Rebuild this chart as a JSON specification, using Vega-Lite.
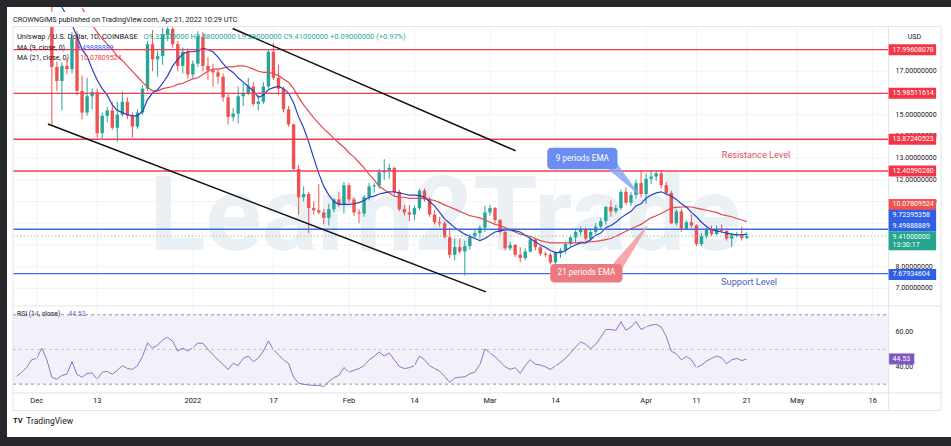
{
"$schema": "https://vega.github.io/schema/vega-lite/v6.json",
"width": 951, "height": 446,
"autosize": {"type": "fit", "contains": "padding"},
"padding": {"left": 7, "top": 7, "right": 0, "bottom": 9},
"background": "#27282c",
"config": {"view": {"stroke": null, "fill": "#ffffff"}, "text": {"font": "Roboto", "fontSize": 7, "color": "#131722"}},
"data": {"values": [{}]},
"datasets": {
"ohlc": [
{"date":"2021-12-04","open":19.6,"high":20.3,"low":14.55,"close":17.2},
{"date":"2021-12-05","open":17.2,"high":17.45,"low":16.1,"close":16.55},
{"date":"2021-12-06","open":16.55,"high":17.4,"low":15.2,"close":17.25},
{"date":"2021-12-07","open":17.25,"high":17.6,"low":16.85,"close":17.1},
{"date":"2021-12-08","open":17.1,"high":18.8,"low":16.9,"close":18.5},
{"date":"2021-12-09","open":18.5,"high":18.85,"low":15.9,"close":16.1},
{"date":"2021-12-10","open":16.1,"high":16.8,"low":14.8,"close":15.1},
{"date":"2021-12-11","open":15.1,"high":16.7,"low":14.95,"close":15.85},
{"date":"2021-12-12","open":15.85,"high":16.2,"low":15.25,"close":16.05},
{"date":"2021-12-13","open":16.05,"high":16.2,"low":13.95,"close":14.15},
{"date":"2021-12-14","open":14.15,"high":15.1,"low":13.9,"close":14.95},
{"date":"2021-12-15","open":14.95,"high":15.35,"low":14.65,"close":15.2},
{"date":"2021-12-16","open":15.2,"high":15.6,"low":14.3,"close":14.4},
{"date":"2021-12-17","open":14.4,"high":15.6,"low":13.75,"close":15.0},
{"date":"2021-12-18","open":15.0,"high":16.1,"low":14.9,"close":15.6},
{"date":"2021-12-19","open":15.6,"high":15.8,"low":14.8,"close":14.95},
{"date":"2021-12-20","open":14.95,"high":15.1,"low":13.95,"close":14.45},
{"date":"2021-12-21","open":14.45,"high":15.25,"low":14.35,"close":15.1},
{"date":"2021-12-22","open":15.1,"high":16.35,"low":15.0,"close":16.2},
{"date":"2021-12-23","open":16.2,"high":18.4,"low":16.1,"close":18.25},
{"date":"2021-12-24","open":18.25,"high":18.9,"low":17.0,"close":17.55},
{"date":"2021-12-25","open":17.55,"high":17.95,"low":16.75,"close":17.7},
{"date":"2021-12-26","open":17.7,"high":19.0,"low":17.3,"close":18.7},
{"date":"2021-12-27","open":18.7,"high":19.4,"low":18.4,"close":18.95},
{"date":"2021-12-28","open":18.95,"high":19.3,"low":18.1,"close":18.25},
{"date":"2021-12-29","open":18.25,"high":18.4,"low":17.0,"close":17.25},
{"date":"2021-12-30","open":17.25,"high":18.1,"low":16.9,"close":17.9},
{"date":"2021-12-31","open":17.9,"high":18.05,"low":16.65,"close":16.85},
{"date":"2022-01-01","open":16.85,"high":17.5,"low":16.7,"close":17.35},
{"date":"2022-01-02","open":17.35,"high":18.85,"low":17.2,"close":18.6},
{"date":"2022-01-03","open":18.6,"high":18.8,"low":17.0,"close":17.25},
{"date":"2022-01-04","open":17.25,"high":17.65,"low":16.6,"close":17.05},
{"date":"2022-01-05","open":17.05,"high":17.35,"low":16.3,"close":16.95},
{"date":"2022-01-06","open":16.95,"high":17.1,"low":16.4,"close":16.75},
{"date":"2022-01-07","open":16.75,"high":16.9,"low":15.6,"close":15.8},
{"date":"2022-01-08","open":15.8,"high":15.95,"low":14.55,"close":14.9},
{"date":"2022-01-09","open":14.9,"high":15.3,"low":14.7,"close":15.05},
{"date":"2022-01-10","open":15.05,"high":16.3,"low":14.6,"close":15.85},
{"date":"2022-01-11","open":15.85,"high":16.45,"low":15.4,"close":16.0},
{"date":"2022-01-12","open":16.0,"high":16.7,"low":15.9,"close":16.3},
{"date":"2022-01-13","open":16.3,"high":16.5,"low":15.4,"close":15.5},
{"date":"2022-01-14","open":15.5,"high":15.9,"low":15.2,"close":15.6},
{"date":"2022-01-15","open":15.6,"high":16.5,"low":15.5,"close":16.3},
{"date":"2022-01-16","open":16.3,"high":18.0,"low":16.2,"close":17.9},
{"date":"2022-01-17","open":17.9,"high":18.3,"low":16.6,"close":16.7},
{"date":"2022-01-18","open":16.7,"high":17.3,"low":15.9,"close":16.2},
{"date":"2022-01-19","open":16.2,"high":16.3,"low":15.1,"close":15.25},
{"date":"2022-01-20","open":15.25,"high":15.4,"low":14.45,"close":14.55},
{"date":"2022-01-21","open":14.55,"high":14.6,"low":12.4,"close":12.5},
{"date":"2022-01-22","open":12.5,"high":12.7,"low":10.4,"close":11.2},
{"date":"2022-01-23","open":11.2,"high":11.7,"low":11.0,"close":11.35},
{"date":"2022-01-24","open":11.35,"high":11.45,"low":9.55,"close":10.7},
{"date":"2022-01-25","open":10.7,"high":11.0,"low":10.4,"close":10.6},
{"date":"2022-01-26","open":10.6,"high":11.8,"low":10.4,"close":10.5},
{"date":"2022-01-27","open":10.5,"high":10.65,"low":9.95,"close":10.25},
{"date":"2022-01-28","open":10.25,"high":10.9,"low":9.9,"close":10.65},
{"date":"2022-01-29","open":10.65,"high":11.15,"low":10.5,"close":11.1},
{"date":"2022-01-30","open":11.1,"high":11.45,"low":10.75,"close":10.85},
{"date":"2022-01-31","open":10.85,"high":11.9,"low":10.45,"close":11.75},
{"date":"2022-02-01","open":11.75,"high":11.85,"low":10.95,"close":11.1},
{"date":"2022-02-02","open":11.1,"high":11.2,"low":10.35,"close":10.5},
{"date":"2022-02-03","open":10.5,"high":10.65,"low":10.0,"close":10.45},
{"date":"2022-02-04","open":10.45,"high":11.3,"low":10.3,"close":11.2},
{"date":"2022-02-05","open":11.2,"high":11.85,"low":11.05,"close":11.7},
{"date":"2022-02-06","open":11.7,"high":11.85,"low":11.4,"close":11.75},
{"date":"2022-02-07","open":11.75,"high":12.5,"low":11.6,"close":12.35},
{"date":"2022-02-08","open":12.35,"high":12.95,"low":12.0,"close":12.45},
{"date":"2022-02-09","open":12.45,"high":12.75,"low":12.05,"close":12.55},
{"date":"2022-02-10","open":12.55,"high":12.6,"low":11.3,"close":11.45},
{"date":"2022-02-11","open":11.45,"high":11.55,"low":10.55,"close":10.65},
{"date":"2022-02-12","open":10.65,"high":10.85,"low":10.35,"close":10.5},
{"date":"2022-02-13","open":10.5,"high":10.85,"low":10.1,"close":10.4},
{"date":"2022-02-14","open":10.4,"high":10.8,"low":10.15,"close":10.7},
{"date":"2022-02-15","open":10.7,"high":11.6,"low":10.6,"close":11.5},
{"date":"2022-02-16","open":11.5,"high":11.6,"low":11.0,"close":11.1},
{"date":"2022-02-17","open":11.1,"high":11.2,"low":10.3,"close":10.4},
{"date":"2022-02-18","open":10.4,"high":10.6,"low":9.95,"close":10.05},
{"date":"2022-02-19","open":10.05,"high":10.3,"low":9.85,"close":10.0},
{"date":"2022-02-20","open":10.0,"high":10.1,"low":9.3,"close":9.35},
{"date":"2022-02-21","open":9.35,"high":9.8,"low":8.4,"close":8.55},
{"date":"2022-02-22","open":8.55,"high":9.3,"low":8.3,"close":8.9},
{"date":"2022-02-23","open":8.9,"high":9.3,"low":8.6,"close":8.7},
{"date":"2022-02-24","open":8.7,"high":9.2,"low":7.6,"close":8.95},
{"date":"2022-02-25","open":8.95,"high":9.5,"low":8.8,"close":9.4},
{"date":"2022-02-26","open":9.4,"high":9.75,"low":9.3,"close":9.55},
{"date":"2022-02-27","open":9.55,"high":9.9,"low":9.3,"close":9.8},
{"date":"2022-02-28","open":9.8,"high":10.8,"low":9.6,"close":10.5},
{"date":"2022-03-01","open":10.5,"high":10.85,"low":10.35,"close":10.7},
{"date":"2022-03-02","open":10.7,"high":10.75,"low":10.0,"close":10.15},
{"date":"2022-03-03","open":10.15,"high":10.2,"low":9.5,"close":9.6},
{"date":"2022-03-04","open":9.6,"high":9.65,"low":8.75,"close":8.85},
{"date":"2022-03-05","open":8.85,"high":9.15,"low":8.75,"close":9.0},
{"date":"2022-03-06","open":9.0,"high":9.05,"low":8.45,"close":8.55},
{"date":"2022-03-07","open":8.55,"high":8.9,"low":8.2,"close":8.4},
{"date":"2022-03-08","open":8.4,"high":8.85,"low":8.3,"close":8.7},
{"date":"2022-03-09","open":8.7,"high":9.35,"low":8.65,"close":9.25},
{"date":"2022-03-10","open":9.25,"high":9.3,"low":8.75,"close":8.9},
{"date":"2022-03-11","open":8.9,"high":8.95,"low":8.5,"close":8.6},
{"date":"2022-03-12","open":8.6,"high":8.7,"low":8.45,"close":8.55},
{"date":"2022-03-13","open":8.55,"high":8.65,"low":8.1,"close":8.2},
{"date":"2022-03-14","open":8.2,"high":8.7,"low":8.05,"close":8.65},
{"date":"2022-03-15","open":8.65,"high":8.85,"low":8.4,"close":8.75},
{"date":"2022-03-16","open":8.75,"high":9.15,"low":8.6,"close":9.05},
{"date":"2022-03-17","open":9.05,"high":9.45,"low":8.95,"close":9.35},
{"date":"2022-03-18","open":9.35,"high":9.75,"low":9.1,"close":9.6},
{"date":"2022-03-19","open":9.6,"high":9.85,"low":9.45,"close":9.7},
{"date":"2022-03-20","open":9.7,"high":9.8,"low":9.2,"close":9.3},
{"date":"2022-03-21","open":9.3,"high":9.75,"low":9.2,"close":9.6},
{"date":"2022-03-22","open":9.6,"high":10.0,"low":9.5,"close":9.85},
{"date":"2022-03-23","open":9.85,"high":10.25,"low":9.7,"close":10.1},
{"date":"2022-03-24","open":10.1,"high":10.8,"low":9.95,"close":10.75},
{"date":"2022-03-25","open":10.75,"high":11.05,"low":10.3,"close":10.55},
{"date":"2022-03-26","open":10.55,"high":10.85,"low":10.45,"close":10.7},
{"date":"2022-03-27","open":10.7,"high":11.55,"low":10.6,"close":11.45},
{"date":"2022-03-28","open":11.45,"high":11.65,"low":10.85,"close":10.95},
{"date":"2022-03-29","open":10.95,"high":11.45,"low":10.8,"close":11.3},
{"date":"2022-03-30","open":11.3,"high":12.0,"low":11.1,"close":11.85},
{"date":"2022-03-31","open":11.85,"high":12.45,"low":11.2,"close":11.35},
{"date":"2022-04-01","open":11.35,"high":12.3,"low":10.9,"close":12.05},
{"date":"2022-04-02","open":12.05,"high":12.45,"low":11.8,"close":12.15},
{"date":"2022-04-03","open":12.15,"high":12.45,"low":11.95,"close":12.3},
{"date":"2022-04-04","open":12.3,"high":12.45,"low":11.6,"close":11.75},
{"date":"2022-04-05","open":11.75,"high":11.9,"low":11.3,"close":11.4},
{"date":"2022-04-06","open":11.4,"high":11.5,"low":9.95,"close":10.0},
{"date":"2022-04-07","open":10.0,"high":10.65,"low":9.9,"close":10.55},
{"date":"2022-04-08","open":10.55,"high":10.65,"low":9.6,"close":9.75},
{"date":"2022-04-09","open":9.75,"high":10.15,"low":9.7,"close":10.05},
{"date":"2022-04-10","open":10.05,"high":10.4,"low":9.8,"close":9.9},
{"date":"2022-04-11","open":9.9,"high":9.95,"low":8.95,"close":9.05},
{"date":"2022-04-12","open":9.05,"high":9.55,"low":8.95,"close":9.4},
{"date":"2022-04-13","open":9.4,"high":9.8,"low":9.3,"close":9.7},
{"date":"2022-04-14","open":9.7,"high":9.9,"low":9.4,"close":9.5},
{"date":"2022-04-15","open":9.5,"high":9.9,"low":9.45,"close":9.75},
{"date":"2022-04-16","open":9.75,"high":9.95,"low":9.55,"close":9.65},
{"date":"2022-04-17","open":9.65,"high":9.75,"low":9.2,"close":9.3},
{"date":"2022-04-18","open":9.3,"high":9.55,"low":8.9,"close":9.45},
{"date":"2022-04-19","open":9.45,"high":9.6,"low":9.35,"close":9.5},
{"date":"2022-04-20","open":9.5,"high":9.85,"low":9.2,"close":9.32},
{"date":"2022-04-21","open":9.32,"high":9.58,"low":9.28,"close":9.41}
],
"ema": [
{"date":"2021-12-06","ema9":19.95,"ema21":null},
{"date":"2021-12-07","ema9":19.55,"ema21":null},
{"date":"2021-12-08","ema9":19.15,"ema21":null},
{"date":"2021-12-09","ema9":18.6,"ema21":null},
{"date":"2021-12-10","ema9":18.0,"ema21":19.9},
{"date":"2021-12-11","ema9":17.7,"ema21":19.55},
{"date":"2021-12-12","ema9":17.1,"ema21":19.15},
{"date":"2021-12-13","ema9":16.6,"ema21":18.8},
{"date":"2021-12-14","ema9":16.2,"ema21":18.5},
{"date":"2021-12-15","ema9":15.9,"ema21":18.25},
{"date":"2021-12-16","ema9":15.45,"ema21":18.0},
{"date":"2021-12-17","ema9":15.2,"ema21":17.7},
{"date":"2021-12-18","ema9":15.1,"ema21":17.5},
{"date":"2021-12-19","ema9":15.0,"ema21":17.25},
{"date":"2021-12-20","ema9":14.95,"ema21":17.0},
{"date":"2021-12-21","ema9":14.95,"ema21":16.75},
{"date":"2021-12-22","ema9":15.15,"ema21":16.5},
{"date":"2021-12-23","ema9":15.7,"ema21":16.25},
{"date":"2021-12-24","ema9":16.0,"ema21":16.1},
{"date":"2021-12-25","ema9":16.15,"ema21":16.1},
{"date":"2021-12-26","ema9":16.45,"ema21":16.2},
{"date":"2021-12-27","ema9":16.8,"ema21":16.25},
{"date":"2021-12-28","ema9":17.25,"ema21":16.3},
{"date":"2021-12-29","ema9":17.55,"ema21":16.4},
{"date":"2021-12-30","ema9":17.8,"ema21":16.45},
{"date":"2021-12-31","ema9":17.9,"ema21":16.55},
{"date":"2022-01-01","ema9":17.9,"ema21":16.65},
{"date":"2022-01-02","ema9":17.95,"ema21":16.7},
{"date":"2022-01-03","ema9":18.05,"ema21":16.85},
{"date":"2022-01-04","ema9":18.0,"ema21":17.0},
{"date":"2022-01-05","ema9":17.9,"ema21":17.1},
{"date":"2022-01-06","ema9":17.65,"ema21":17.1},
{"date":"2022-01-07","ema9":17.35,"ema21":17.15},
{"date":"2022-01-08","ema9":17.1,"ema21":17.2},
{"date":"2022-01-09","ema9":16.95,"ema21":17.2},
{"date":"2022-01-10","ema9":16.7,"ema21":17.25},
{"date":"2022-01-11","ema9":16.5,"ema21":17.25},
{"date":"2022-01-12","ema9":16.3,"ema21":17.2},
{"date":"2022-01-13","ema9":16.1,"ema21":17.1},
{"date":"2022-01-14","ema9":15.8,"ema21":17.0},
{"date":"2022-01-15","ema9":15.9,"ema21":16.95},
{"date":"2022-01-16","ema9":16.15,"ema21":16.95},
{"date":"2022-01-17","ema9":16.25,"ema21":16.9},
{"date":"2022-01-18","ema9":16.3,"ema21":16.8},
{"date":"2022-01-19","ema9":16.2,"ema21":16.65},
{"date":"2022-01-20","ema9":16.0,"ema21":16.5},
{"date":"2022-01-21","ema9":15.55,"ema21":16.2},
{"date":"2022-01-22","ema9":14.9,"ema21":15.8},
{"date":"2022-01-23","ema9":14.4,"ema21":15.45},
{"date":"2022-01-24","ema9":13.75,"ema21":15.15},
{"date":"2022-01-25","ema9":13.0,"ema21":14.85},
{"date":"2022-01-26","ema9":12.3,"ema21":14.6},
{"date":"2022-01-27","ema9":11.7,"ema21":14.35},
{"date":"2022-01-28","ema9":11.3,"ema21":14.15},
{"date":"2022-01-29","ema9":11.0,"ema21":13.9},
{"date":"2022-01-30","ema9":10.87,"ema21":13.7},
{"date":"2022-01-31","ema9":10.87,"ema21":13.5},
{"date":"2022-02-01","ema9":10.87,"ema21":13.25},
{"date":"2022-02-02","ema9":10.9,"ema21":13.05},
{"date":"2022-02-03","ema9":10.95,"ema21":12.8},
{"date":"2022-02-04","ema9":11.05,"ema21":12.55},
{"date":"2022-02-05","ema9":11.2,"ema21":12.25},
{"date":"2022-02-06","ema9":11.25,"ema21":12.0},
{"date":"2022-02-07","ema9":11.35,"ema21":11.7},
{"date":"2022-02-08","ema9":11.4,"ema21":11.55},
{"date":"2022-02-09","ema9":11.45,"ema21":11.4},
{"date":"2022-02-10","ema9":11.45,"ema21":11.25},
{"date":"2022-02-11","ema9":11.4,"ema21":11.2},
{"date":"2022-02-12","ema9":11.35,"ema21":11.2},
{"date":"2022-02-13","ema9":11.3,"ema21":11.15},
{"date":"2022-02-14","ema9":11.3,"ema21":11.15},
{"date":"2022-02-15","ema9":11.27,"ema21":11.15},
{"date":"2022-02-16","ema9":11.2,"ema21":11.15},
{"date":"2022-02-17","ema9":11.0,"ema21":11.1},
{"date":"2022-02-18","ema9":10.8,"ema21":11.05},
{"date":"2022-02-19","ema9":10.5,"ema21":10.95},
{"date":"2022-02-20","ema9":10.2,"ema21":10.85},
{"date":"2022-02-21","ema9":10.0,"ema21":10.75},
{"date":"2022-02-22","ema9":9.8,"ema21":10.65},
{"date":"2022-02-23","ema9":9.65,"ema21":10.55},
{"date":"2022-02-24","ema9":9.5,"ema21":10.45},
{"date":"2022-02-25","ema9":9.4,"ema21":10.35},
{"date":"2022-02-26","ema9":9.3,"ema21":10.3},
{"date":"2022-02-27","ema9":9.2,"ema21":10.25},
{"date":"2022-02-28","ema9":9.3,"ema21":10.15},
{"date":"2022-03-01","ema9":9.45,"ema21":10.05},
{"date":"2022-03-02","ema9":9.6,"ema21":9.95},
{"date":"2022-03-03","ema9":9.65,"ema21":9.9},
{"date":"2022-03-04","ema9":9.7,"ema21":9.8},
{"date":"2022-03-05","ema9":9.7,"ema21":9.7},
{"date":"2022-03-06","ema9":9.65,"ema21":9.6},
{"date":"2022-03-07","ema9":9.6,"ema21":9.5},
{"date":"2022-03-08","ema9":9.45,"ema21":9.45},
{"date":"2022-03-09","ema9":9.3,"ema21":9.4},
{"date":"2022-03-10","ema9":9.15,"ema21":9.3},
{"date":"2022-03-11","ema9":9.0,"ema21":9.2},
{"date":"2022-03-12","ema9":8.9,"ema21":9.15},
{"date":"2022-03-13","ema9":8.75,"ema21":9.1},
{"date":"2022-03-14","ema9":8.65,"ema21":9.1},
{"date":"2022-03-15","ema9":8.65,"ema21":9.1},
{"date":"2022-03-16","ema9":8.75,"ema21":9.1},
{"date":"2022-03-17","ema9":8.9,"ema21":9.1},
{"date":"2022-03-18","ema9":9.0,"ema21":9.1},
{"date":"2022-03-19","ema9":9.1,"ema21":9.12},
{"date":"2022-03-20","ema9":9.1,"ema21":9.13},
{"date":"2022-03-21","ema9":9.25,"ema21":9.15},
{"date":"2022-03-22","ema9":9.45,"ema21":9.17},
{"date":"2022-03-23","ema9":9.55,"ema21":9.2},
{"date":"2022-03-24","ema9":9.8,"ema21":9.25},
{"date":"2022-03-25","ema9":9.9,"ema21":9.3},
{"date":"2022-03-26","ema9":10.05,"ema21":9.4},
{"date":"2022-03-27","ema9":10.25,"ema21":9.52},
{"date":"2022-03-28","ema9":10.4,"ema21":9.63},
{"date":"2022-03-29","ema9":10.55,"ema21":9.75},
{"date":"2022-03-30","ema9":10.8,"ema21":9.85},
{"date":"2022-03-31","ema9":10.9,"ema21":9.95},
{"date":"2022-04-01","ema9":11.15,"ema21":10.1},
{"date":"2022-04-02","ema9":11.3,"ema21":10.25},
{"date":"2022-04-03","ema9":11.4,"ema21":10.35},
{"date":"2022-04-04","ema9":11.45,"ema21":10.45},
{"date":"2022-04-05","ema9":11.35,"ema21":10.58},
{"date":"2022-04-06","ema9":11.25,"ema21":10.7},
{"date":"2022-04-07","ema9":11.1,"ema21":10.73},
{"date":"2022-04-08","ema9":10.9,"ema21":10.75},
{"date":"2022-04-09","ema9":10.75,"ema21":10.76},
{"date":"2022-04-10","ema9":10.5,"ema21":10.75},
{"date":"2022-04-11","ema9":10.3,"ema21":10.7},
{"date":"2022-04-12","ema9":10.05,"ema21":10.65},
{"date":"2022-04-13","ema9":9.85,"ema21":10.6},
{"date":"2022-04-14","ema9":9.7,"ema21":10.55},
{"date":"2022-04-15","ema9":9.65,"ema21":10.5},
{"date":"2022-04-16","ema9":9.6,"ema21":10.4},
{"date":"2022-04-17","ema9":9.55,"ema21":10.35},
{"date":"2022-04-18","ema9":9.5,"ema21":10.3},
{"date":"2022-04-19","ema9":9.47,"ema21":10.22},
{"date":"2022-04-20","ema9":9.47,"ema21":10.15},
{"date":"2022-04-21","ema9":9.499,"ema21":10.078}
],
"rsi": [
{"date":"2021-11-27","rsi":34.5},{"date":"2021-11-28","rsi":36.8},{"date":"2021-11-29","rsi":39.6},{"date":"2021-11-30","rsi":44.1},
{"date":"2021-12-01","rsi":44.9},{"date":"2021-12-02","rsi":50.8},{"date":"2021-12-03","rsi":44.1},{"date":"2021-12-04","rsi":34.0},
{"date":"2021-12-05","rsi":32.8},{"date":"2021-12-06","rsi":35.0},{"date":"2021-12-07","rsi":35.8},{"date":"2021-12-08","rsi":43.0},
{"date":"2021-12-09","rsi":35.6},{"date":"2021-12-10","rsi":34.0},{"date":"2021-12-11","rsi":36.2},{"date":"2021-12-12","rsi":36.5},
{"date":"2021-12-13","rsi":32.8},{"date":"2021-12-14","rsi":36.8},{"date":"2021-12-15","rsi":37.4},{"date":"2021-12-16","rsi":35.6},
{"date":"2021-12-17","rsi":38.0},{"date":"2021-12-18","rsi":40.7},{"date":"2021-12-19","rsi":39.0},{"date":"2021-12-20","rsi":38.5},
{"date":"2021-12-21","rsi":40.7},{"date":"2021-12-22","rsi":46.0},{"date":"2021-12-23","rsi":53.7},{"date":"2021-12-24","rsi":50.8},
{"date":"2021-12-25","rsi":52.5},{"date":"2021-12-26","rsi":55.5},{"date":"2021-12-27","rsi":57.0},{"date":"2021-12-28","rsi":54.6},
{"date":"2021-12-29","rsi":49.1},{"date":"2021-12-30","rsi":50.8},{"date":"2021-12-31","rsi":49.1},{"date":"2022-01-01","rsi":51.0},
{"date":"2022-01-02","rsi":53.7},{"date":"2022-01-03","rsi":53.5},{"date":"2022-01-04","rsi":50.0},{"date":"2022-01-05","rsi":47.0},
{"date":"2022-01-06","rsi":44.0},{"date":"2022-01-07","rsi":41.3},{"date":"2022-01-08","rsi":38.5},{"date":"2022-01-09","rsi":42.0},
{"date":"2022-01-10","rsi":40.7},{"date":"2022-01-11","rsi":44.9},{"date":"2022-01-12","rsi":46.2},{"date":"2022-01-13","rsi":43.0},
{"date":"2022-01-14","rsi":45.0},{"date":"2022-01-15","rsi":49.1},{"date":"2022-01-16","rsi":54.9},{"date":"2022-01-17","rsi":49.9},
{"date":"2022-01-18","rsi":47.0},{"date":"2022-01-19","rsi":44.0},{"date":"2022-01-20","rsi":42.0},{"date":"2022-01-21","rsi":34.0},
{"date":"2022-01-22","rsi":30.6},{"date":"2022-01-23","rsi":29.9},{"date":"2022-01-24","rsi":29.5},{"date":"2022-01-25","rsi":29.3},
{"date":"2022-01-26","rsi":29.3},{"date":"2022-01-27","rsi":28.6},{"date":"2022-01-28","rsi":31.5},{"date":"2022-01-29","rsi":33.8},
{"date":"2022-01-30","rsi":35.0},{"date":"2022-01-31","rsi":39.6},{"date":"2022-02-01","rsi":36.8},{"date":"2022-02-02","rsi":38.0},
{"date":"2022-02-03","rsi":39.0},{"date":"2022-02-04","rsi":40.7},{"date":"2022-02-05","rsi":44.0},{"date":"2022-02-06","rsi":46.0},
{"date":"2022-02-07","rsi":48.6},{"date":"2022-02-08","rsi":46.2},{"date":"2022-02-09","rsi":48.0},{"date":"2022-02-10","rsi":44.0},
{"date":"2022-02-11","rsi":40.1},{"date":"2022-02-12","rsi":39.0},{"date":"2022-02-13","rsi":39.5},{"date":"2022-02-14","rsi":40.7},
{"date":"2022-02-15","rsi":46.2},{"date":"2022-02-16","rsi":44.1},{"date":"2022-02-17","rsi":40.7},{"date":"2022-02-18","rsi":39.0},
{"date":"2022-02-19","rsi":37.5},{"date":"2022-02-20","rsi":34.5},{"date":"2022-02-21","rsi":31.1},{"date":"2022-02-22","rsi":33.5},
{"date":"2022-02-23","rsi":34.0},{"date":"2022-02-24","rsi":34.2},{"date":"2022-02-25","rsi":36.0},{"date":"2022-02-26","rsi":37.0},
{"date":"2022-02-27","rsi":41.3},{"date":"2022-02-28","rsi":50.3},{"date":"2022-03-01","rsi":48.0},{"date":"2022-03-02","rsi":45.8},
{"date":"2022-03-03","rsi":43.0},{"date":"2022-03-04","rsi":40.0},{"date":"2022-03-05","rsi":38.5},{"date":"2022-03-06","rsi":39.5},
{"date":"2022-03-07","rsi":36.2},{"date":"2022-03-08","rsi":40.7},{"date":"2022-03-09","rsi":44.1},{"date":"2022-03-10","rsi":41.5},
{"date":"2022-03-11","rsi":41.0},{"date":"2022-03-12","rsi":40.0},{"date":"2022-03-13","rsi":38.5},{"date":"2022-03-14","rsi":40.5},
{"date":"2022-03-15","rsi":42.5},{"date":"2022-03-16","rsi":44.9},{"date":"2022-03-17","rsi":48.0},{"date":"2022-03-18","rsi":51.5},
{"date":"2022-03-19","rsi":54.3},{"date":"2022-03-20","rsi":53.0},{"date":"2022-03-21","rsi":50.5},{"date":"2022-03-22","rsi":53.0},
{"date":"2022-03-23","rsi":57.0},{"date":"2022-03-24","rsi":61.5},{"date":"2022-03-25","rsi":61.5},{"date":"2022-03-26","rsi":61.0},
{"date":"2022-03-27","rsi":66.0},{"date":"2022-03-28","rsi":61.0},{"date":"2022-03-29","rsi":63.0},{"date":"2022-03-30","rsi":66.1},
{"date":"2022-03-31","rsi":61.5},{"date":"2022-04-01","rsi":63.0},{"date":"2022-04-02","rsi":64.0},{"date":"2022-04-03","rsi":64.5},
{"date":"2022-04-04","rsi":63.0},{"date":"2022-04-05","rsi":57.5},{"date":"2022-04-06","rsi":49.0},{"date":"2022-04-07","rsi":47.5},
{"date":"2022-04-08","rsi":44.0},{"date":"2022-04-09","rsi":46.0},{"date":"2022-04-10","rsi":44.0},{"date":"2022-04-11","rsi":39.5},
{"date":"2022-04-12","rsi":41.0},{"date":"2022-04-13","rsi":43.3},{"date":"2022-04-14","rsi":44.9},{"date":"2022-04-15","rsi":46.2},
{"date":"2022-04-16","rsi":45.2},{"date":"2022-04-17","rsi":41.8},{"date":"2022-04-18","rsi":44.0},{"date":"2022-04-19","rsi":44.9},
{"date":"2022-04-20","rsi":43.6},{"date":"2022-04-21","rsi":44.53}
],
"levels": [
{"price":17.99608078,"kind":"resistance"},{"price":15.98511614,"kind":"resistance"},{"price":13.87240523,"kind":"resistance"},{"price":12.4059028,"kind":"resistance"},
{"price":9.72395358,"kind":"support"},{"price":7.67934604,"kind":"support"}
],
"ticks": [{"price":7},{"price":8},{"price":9},{"price":10},{"price":11},{"price":12},{"price":13},{"price":14},{"price":15},{"price":16},{"price":17},{"price":18}],
"dates": [
{"date":"2021-12-01","label":"Dec"},{"date":"2021-12-13","label":"13"},{"date":"2022-01-01","label":"2022"},{"date":"2022-01-17","label":"17"},
{"date":"2022-02-01","label":"Feb"},{"date":"2022-02-14","label":"14"},{"date":"2022-03-01","label":"Mar"},{"date":"2022-03-14","label":"14"},
{"date":"2022-04-01","label":"Apr"},{"date":"2022-04-11","label":"11"},{"date":"2022-04-21","label":"21"},{"date":"2022-05-01","label":"May"},{"date":"2022-05-16","label":"16"}
],
"tags": [
{"label":"17.99608078","at":17.99608078,"kind":"resistance"},
{"label":"15.98511614","at":15.98511614,"kind":"resistance"},
{"label":"13.87240523","at":13.87240523,"kind":"resistance"},
{"label":"12.40590280","at":12.4059028,"kind":"resistance"},
{"label":"10.07809524","at":10.87,"kind":"ema21"},
{"label":"9.72395358","at":10.37,"kind":"support"},
{"label":"9.49888889","at":9.89,"kind":"ema9"},
{"label":"7.67934604","at":7.643,"kind":"support"}
]
},
"resolve": {"scale": {"y": "independent"}},
"layer": [
{"layer": [
 {"mark": {"type": "rect", "fill": "#7e57c2", "fillOpacity": 0.09},
  "encoding": {
   "x": {"datum": {"year":2021,"month":11,"date":26,"hours":6,"minutes":50,"utc":true}, "type": "temporal", "scale": {"type":"utc","domain":[{"year":2021,"month":11,"date":26,"hours":2,"minutes":7,"utc":true},{"year":2022,"month":5,"date":30,"hours":13,"minutes":12,"utc":true}]}, "axis": null},
   "x2": {"datum": {"year":2022,"month":5,"date":19,"hours":3,"minutes":50,"utc":true}},
   "y": {"datum": 70, "type": "quantitative", "scale": {"domain":[2.39,244.65],"nice":false,"zero":false}, "axis": null},
   "y2": {"datum": 30}}},
 {"data": {"values": [{"rsi":70},{"rsi":30}]},
  "mark": {"type": "rule", "color": "#8f929b", "strokeWidth": 1, "strokeDash": [3, 3]},
  "encoding": {
   "x": {"datum": {"year":2021,"month":11,"date":26,"hours":6,"minutes":50,"utc":true}, "type": "temporal", "scale": {"type":"utc","domain":[{"year":2021,"month":11,"date":26,"hours":2,"minutes":7,"utc":true},{"year":2022,"month":5,"date":30,"hours":13,"minutes":12,"utc":true}]}, "axis": null},
   "x2": {"datum": {"year":2022,"month":5,"date":19,"hours":3,"minutes":50,"utc":true}},
   "y": {"field": "rsi", "type": "quantitative", "scale": {"domain":[2.39,244.65],"nice":false,"zero":false}, "axis": null}}},
 {"mark": {"type": "rule", "color": "#c3c5cc", "strokeWidth": 1, "strokeDash": [3, 3]},
  "encoding": {
   "x": {"datum": {"year":2021,"month":11,"date":26,"hours":6,"minutes":50,"utc":true}, "type": "temporal", "scale": {"type":"utc","domain":[{"year":2021,"month":11,"date":26,"hours":2,"minutes":7,"utc":true},{"year":2022,"month":5,"date":30,"hours":13,"minutes":12,"utc":true}]}, "axis": null},
   "x2": {"datum": {"year":2022,"month":5,"date":19,"hours":3,"minutes":50,"utc":true}},
   "y": {"datum": 50, "type": "quantitative", "scale": {"domain":[2.39,244.65],"nice":false,"zero":false}, "axis": null}}},
 {"data": {"name": "rsi"},
  "mark": {"type": "line", "color": "#8a76c4", "strokeWidth": 1},
  "encoding": {
   "x": {"field": "date", "type": "temporal", "scale": {"type":"utc","domain":[{"year":2021,"month":11,"date":26,"hours":2,"minutes":7,"utc":true},{"year":2022,"month":5,"date":30,"hours":13,"minutes":12,"utc":true}]}, "axis": null},
   "y": {"field": "rsi", "type": "quantitative", "scale": {"domain":[2.39,244.65],"nice":false,"zero":false}, "axis": null}}},
 {"mark": {"type": "text", "align": "left", "baseline": "middle", "fontSize": 6.8, "text": "RSI (14, close)"},
  "encoding": {
   "x": {"datum": {"year":2021,"month":11,"date":27,"hours":1,"minutes":42,"utc":true}, "type": "temporal", "scale": {"type":"utc","domain":[{"year":2021,"month":11,"date":26,"hours":2,"minutes":7,"utc":true},{"year":2022,"month":5,"date":30,"hours":13,"minutes":12,"utc":true}]}, "axis": null},
   "y": {"datum": 70.6, "type": "quantitative", "scale": {"domain":[2.39,244.65],"nice":false,"zero":false}, "axis": null}}},
 {"mark": {"type": "text", "align": "left", "baseline": "middle", "fontSize": 6.8, "color": "#7e57c2", "text": "44.53"},
  "encoding": {
   "x": {"datum": {"year":2021,"month":12,"date":7,"hours":6,"minutes":53,"utc":true}, "type": "temporal", "scale": {"type":"utc","domain":[{"year":2021,"month":11,"date":26,"hours":2,"minutes":7,"utc":true},{"year":2022,"month":5,"date":30,"hours":13,"minutes":12,"utc":true}]}, "axis": null},
   "y": {"datum": 70.6, "type": "quantitative", "scale": {"domain":[2.39,244.65],"nice":false,"zero":false}, "axis": null}}},
 {"data": {"values": [{"rsi":60},{"rsi":40}]},
  "mark": {"type": "text", "align": "left", "baseline": "middle", "fontSize": 7},
  "encoding": {
   "x": {"datum": {"year":2022,"month":5,"date":20,"hours":12,"minutes":45,"utc":true}, "type": "temporal", "scale": {"type":"utc","domain":[{"year":2021,"month":11,"date":26,"hours":2,"minutes":7,"utc":true},{"year":2022,"month":5,"date":30,"hours":13,"minutes":12,"utc":true}]}, "axis": null},
   "y": {"field": "rsi", "type": "quantitative", "scale": {"domain":[2.39,244.65],"nice":false,"zero":false}, "axis": null},
   "text": {"field": "rsi", "type": "quantitative", "format": ".2f"}}},
 {"mark": {"type": "bar", "orient": "horizontal", "size": 11, "color": "#7e57c2"},
  "encoding": {
   "x": {"datum": {"year":2022,"month":5,"date":19,"hours":3,"minutes":50,"utc":true}, "type": "temporal", "scale": {"type":"utc","domain":[{"year":2021,"month":11,"date":26,"hours":2,"minutes":7,"utc":true},{"year":2022,"month":5,"date":30,"hours":13,"minutes":12,"utc":true}]}, "axis": null},
   "x2": {"datum": {"year":2022,"month":5,"date":24,"hours":6,"minutes":15,"utc":true}},
   "y": {"datum": 44.53, "type": "quantitative", "scale": {"domain":[2.39,244.65],"nice":false,"zero":false}, "axis": null}}},
 {"mark": {"type": "text", "align": "left", "baseline": "middle", "fontSize": 7, "color": "#ffffff", "text": "44.53"},
  "encoding": {
   "x": {"datum": {"year":2022,"month":5,"date":19,"hours":22,"minutes":35,"utc":true}, "type": "temporal", "scale": {"type":"utc","domain":[{"year":2021,"month":11,"date":26,"hours":2,"minutes":7,"utc":true},{"year":2022,"month":5,"date":30,"hours":13,"minutes":12,"utc":true}]}, "axis": null},
   "y": {"datum": 44.53, "type": "quantitative", "scale": {"domain":[2.39,244.65],"nice":false,"zero":false}, "axis": null}}}
]},
{"layer": [
 {"data": {"name": "ticks"},
  "mark": {"type": "rule", "color": "#f1f3f7", "strokeWidth": 1},
  "encoding": {
   "x": {"datum": {"year":2021,"month":11,"date":26,"hours":6,"minutes":50,"utc":true}, "type": "temporal", "scale": {"type":"utc","domain":[{"year":2021,"month":11,"date":26,"hours":2,"minutes":7,"utc":true},{"year":2022,"month":5,"date":30,"hours":13,"minutes":12,"utc":true}]}, "axis": null},
   "x2": {"datum": {"year":2022,"month":5,"date":19,"hours":3,"minutes":50,"utc":true}},
   "y": {"field": "price", "type": "quantitative", "scale": {"domain":[0.3874,19.731],"nice":false,"zero":false}, "axis": null}}},
 {"data": {"name": "dates"},
  "mark": {"type": "rule", "color": "#f1f3f7", "strokeWidth": 1},
  "encoding": {
   "x": {"field": "date", "type": "temporal", "scale": {"type":"utc","domain":[{"year":2021,"month":11,"date":26,"hours":2,"minutes":7,"utc":true},{"year":2022,"month":5,"date":30,"hours":13,"minutes":12,"utc":true}]}, "axis": null},
   "y": {"datum": 19.056, "type": "quantitative", "scale": {"domain":[0.3874,19.731],"nice":false,"zero":false}, "axis": null},
   "y2": {"datum": 2.187}}},
 {"mark": {"type": "text", "text": "Learn2Trade", "fontSize": 104, "fontWeight": "bold", "color": "#ebf0f5", "align": "center", "baseline": "middle"},
  "encoding": {
   "x": {"datum": {"year":2022,"month":2,"date":20,"hours":2,"minutes":25,"utc":true}, "type": "temporal", "scale": {"type":"utc","domain":[{"year":2021,"month":11,"date":26,"hours":2,"minutes":7,"utc":true},{"year":2022,"month":5,"date":30,"hours":13,"minutes":12,"utc":true}]}, "axis": null},
   "y": {"datum": 10.2, "type": "quantitative", "scale": {"domain":[0.3874,19.731],"nice":false,"zero":false}, "axis": null}}},
 {"data": {"name": "ohlc"},
  "mark": {"type": "rule", "strokeWidth": 1, "clip": true},
  "encoding": {
   "x": {"field": "date", "type": "temporal", "scale": {"type":"utc","domain":[{"year":2021,"month":11,"date":26,"hours":2,"minutes":7,"utc":true},{"year":2022,"month":5,"date":30,"hours":13,"minutes":12,"utc":true}]}, "axis": null},
   "y": {"field": "low", "type": "quantitative", "scale": {"domain":[0.3874,19.731],"nice":false,"zero":false}, "axis": null},
   "y2": {"field": "high"},
   "color": {"condition": {"test": "datum.close >= datum.open", "value": "#26a69a"}, "value": "#ef5350"}}},
 {"data": {"name": "ohlc"},
  "mark": {"type": "bar", "size": 3.4, "clip": true},
  "encoding": {
   "x": {"field": "date", "type": "temporal", "scale": {"type":"utc","domain":[{"year":2021,"month":11,"date":26,"hours":2,"minutes":7,"utc":true},{"year":2022,"month":5,"date":30,"hours":13,"minutes":12,"utc":true}]}, "axis": null},
   "y": {"field": "open", "type": "quantitative", "scale": {"domain":[0.3874,19.731],"nice":false,"zero":false}, "axis": null},
   "y2": {"field": "close"},
   "color": {"condition": {"test": "datum.close >= datum.open", "value": "#26a69a"}, "value": "#ef5350"}}},
 {"data": {"name": "ema"},
  "mark": {"type": "line", "color": "#e5484d", "strokeWidth": 1.2, "clip": true},
  "encoding": {
   "x": {"field": "date", "type": "temporal", "scale": {"type":"utc","domain":[{"year":2021,"month":11,"date":26,"hours":2,"minutes":7,"utc":true},{"year":2022,"month":5,"date":30,"hours":13,"minutes":12,"utc":true}]}, "axis": null},
   "y": {"field": "ema21", "type": "quantitative", "scale": {"domain":[0.3874,19.731],"nice":false,"zero":false}, "axis": null}}},
 {"data": {"name": "ema"},
  "mark": {"type": "line", "color": "#2b3fc4", "strokeWidth": 1.2, "clip": true},
  "encoding": {
   "x": {"field": "date", "type": "temporal", "scale": {"type":"utc","domain":[{"year":2021,"month":11,"date":26,"hours":2,"minutes":7,"utc":true},{"year":2022,"month":5,"date":30,"hours":13,"minutes":12,"utc":true}]}, "axis": null},
   "y": {"field": "ema9", "type": "quantitative", "scale": {"domain":[0.3874,19.731],"nice":false,"zero":false}, "axis": null}}},
 {"mark": {"type": "rule", "color": "#8fcac3", "strokeWidth": 1, "strokeDash": [1.5, 2]},
  "encoding": {
   "x": {"datum": {"year":2021,"month":11,"date":26,"hours":6,"minutes":50,"utc":true}, "type": "temporal", "scale": {"type":"utc","domain":[{"year":2021,"month":11,"date":26,"hours":2,"minutes":7,"utc":true},{"year":2022,"month":5,"date":30,"hours":13,"minutes":12,"utc":true}]}, "axis": null},
   "x2": {"datum": {"year":2022,"month":5,"date":19,"hours":3,"minutes":50,"utc":true}},
   "y": {"datum": 9.41, "type": "quantitative", "scale": {"domain":[0.3874,19.731],"nice":false,"zero":false}, "axis": null}}},
 {"data": {"name": "levels"},
  "mark": {"type": "rule", "strokeWidth": 1.4},
  "encoding": {
   "x": {"datum": {"year":2021,"month":11,"date":26,"hours":6,"minutes":50,"utc":true}, "type": "temporal", "scale": {"type":"utc","domain":[{"year":2021,"month":11,"date":26,"hours":2,"minutes":7,"utc":true},{"year":2022,"month":5,"date":30,"hours":13,"minutes":12,"utc":true}]}, "axis": null},
   "x2": {"datum": {"year":2022,"month":5,"date":19,"hours":3,"minutes":50,"utc":true}},
   "y": {"field": "price", "type": "quantitative", "scale": {"domain":[0.3874,19.731],"nice":false,"zero":false}, "axis": null},
   "color": {"condition": {"test": "datum.kind === 'resistance'", "value": "#ee3f4f"}, "value": "#3d6ce0"}}},
 {"data": {"values": [
   {"line":"upper","date":"2022-01-08T21:30:00Z","price":18.97},{"line":"upper","date":"2022-03-06T02:00:00Z","price":13.34},
   {"line":"lower","date":"2021-12-03T05:20:00Z","price":14.57},{"line":"lower","date":"2022-02-28T04:50:00Z","price":6.84}]},
  "mark": {"type": "line", "color": "#111111", "strokeWidth": 1.5},
  "encoding": {
   "x": {"field": "date", "type": "temporal", "scale": {"type":"utc","domain":[{"year":2021,"month":11,"date":26,"hours":2,"minutes":7,"utc":true},{"year":2022,"month":5,"date":30,"hours":13,"minutes":12,"utc":true}]}, "axis": null},
   "y": {"field": "price", "type": "quantitative", "scale": {"domain":[0.3874,19.731],"nice":false,"zero":false}, "axis": null},
   "detail": {"field": "line"}}},
 {"data": {"values": [{"date":"2022-03-25T13:00:00Z","price":12.58,"s":0},{"date":"2022-03-30T10:50:00Z","price":11.36,"s":1}]},
  "mark": {"type": "trail", "color": "#88a3f2", "opacity": 0.85},
  "encoding": {
   "x": {"field": "date", "type": "temporal", "scale": {"type":"utc","domain":[{"year":2021,"month":11,"date":26,"hours":2,"minutes":7,"utc":true},{"year":2022,"month":5,"date":30,"hours":13,"minutes":12,"utc":true}]}, "axis": null},
   "y": {"field": "price", "type": "quantitative", "scale": {"domain":[0.3874,19.731],"nice":false,"zero":false}, "axis": null},
   "size": {"field": "s", "type": "quantitative", "scale": {"domain": [0, 1], "range": [10, 1]}, "legend": null}}},
 {"data": {"values": [{"date":"2022-03-26T12:30:00Z","price":8.08,"s":0},{"date":"2022-04-01T05:15:00Z","price":9.88,"s":1}]},
  "mark": {"type": "trail", "color": "#f09aa0", "opacity": 0.85},
  "encoding": {
   "x": {"field": "date", "type": "temporal", "scale": {"type":"utc","domain":[{"year":2021,"month":11,"date":26,"hours":2,"minutes":7,"utc":true},{"year":2022,"month":5,"date":30,"hours":13,"minutes":12,"utc":true}]}, "axis": null},
   "y": {"field": "price", "type": "quantitative", "scale": {"domain":[0.3874,19.731],"nice":false,"zero":false}, "axis": null},
   "size": {"field": "s", "type": "quantitative", "scale": {"domain": [0, 1], "range": [10, 1]}, "legend": null}}},
 {"mark": {"type": "rect", "fill": "#6b8df0", "cornerRadius": 4},
  "encoding": {
   "x": {"datum": {"year":2022,"month":3,"date":12,"hours":9,"minutes":0,"utc":true}, "type": "temporal", "scale": {"type":"utc","domain":[{"year":2021,"month":11,"date":26,"hours":2,"minutes":7,"utc":true},{"year":2022,"month":5,"date":30,"hours":13,"minutes":12,"utc":true}]}, "axis": null},
   "x2": {"datum": {"year":2022,"month":3,"date":26,"hours":7,"minutes":40,"utc":true}},
   "y": {"datum": 13.478, "type": "quantitative", "scale": {"domain":[0.3874,19.731],"nice":false,"zero":false}, "axis": null},
   "y2": {"datum": 12.488}}},
 {"mark": {"type": "rect", "fill": "#ec7880", "cornerRadius": 4},
  "encoding": {
   "x": {"datum": {"year":2022,"month":3,"date":12,"hours":23,"minutes":5,"utc":true}, "type": "temporal", "scale": {"type":"utc","domain":[{"year":2021,"month":11,"date":26,"hours":2,"minutes":7,"utc":true},{"year":2022,"month":5,"date":30,"hours":13,"minutes":12,"utc":true}]}, "axis": null},
   "x2": {"datum": {"year":2022,"month":3,"date":27,"hours":7,"minutes":25,"utc":true}},
   "y": {"datum": 8.125, "type": "quantitative", "scale": {"domain":[0.3874,19.731],"nice":false,"zero":false}, "axis": null},
   "y2": {"datum": 7.27}}},
 {"mark": {"type": "text", "text": "9 periods EMA", "fontSize": 8.2, "color": "#ffffff", "align": "center", "baseline": "middle"},
  "encoding": {
   "x": {"datum": {"year":2022,"month":3,"date":19,"hours":8,"minutes":25,"utc":true}, "type": "temporal", "scale": {"type":"utc","domain":[{"year":2021,"month":11,"date":26,"hours":2,"minutes":7,"utc":true},{"year":2022,"month":5,"date":30,"hours":13,"minutes":12,"utc":true}]}, "axis": null},
   "y": {"datum": 12.983, "type": "quantitative", "scale": {"domain":[0.3874,19.731],"nice":false,"zero":false}, "axis": null}}},
 {"mark": {"type": "text", "text": "21 periods EMA", "fontSize": 8.2, "color": "#ffffff", "align": "center", "baseline": "middle"},
  "encoding": {
   "x": {"datum": {"year":2022,"month":3,"date":20,"hours":3,"minutes":20,"utc":true}, "type": "temporal", "scale": {"type":"utc","domain":[{"year":2021,"month":11,"date":26,"hours":2,"minutes":7,"utc":true},{"year":2022,"month":5,"date":30,"hours":13,"minutes":12,"utc":true}]}, "axis": null},
   "y": {"datum": 7.697, "type": "quantitative", "scale": {"domain":[0.3874,19.731],"nice":false,"zero":false}, "axis": null}}},
 {"mark": {"type": "text", "text": "Resistance Level", "fontSize": 9.2, "color": "#e0505c", "align": "center", "baseline": "middle"},
  "encoding": {
   "x": {"datum": {"year":2022,"month":4,"date":22,"hours":20,"minutes":0,"utc":true}, "type": "temporal", "scale": {"type":"utc","domain":[{"year":2021,"month":11,"date":26,"hours":2,"minutes":7,"utc":true},{"year":2022,"month":5,"date":30,"hours":13,"minutes":12,"utc":true}]}, "axis": null},
   "y": {"datum": 13.163, "type": "quantitative", "scale": {"domain":[0.3874,19.731],"nice":false,"zero":false}, "axis": null}}},
 {"mark": {"type": "text", "text": "Support Level", "fontSize": 9.2, "color": "#4a5cc8", "align": "center", "baseline": "middle"},
  "encoding": {
   "x": {"datum": {"year":2022,"month":4,"date":21,"hours":10,"minutes":50,"utc":true}, "type": "temporal", "scale": {"type":"utc","domain":[{"year":2021,"month":11,"date":26,"hours":2,"minutes":7,"utc":true},{"year":2022,"month":5,"date":30,"hours":13,"minutes":12,"utc":true}]}, "axis": null},
   "y": {"datum": 7.315, "type": "quantitative", "scale": {"domain":[0.3874,19.731],"nice":false,"zero":false}, "axis": null}}},
 {"mark": {"type": "rect", "fill": "#ffffff"},
  "encoding": {
   "x": {"datum": {"year":2021,"month":11,"date":26,"hours":2,"minutes":7,"utc":true}, "type": "temporal", "scale": {"type":"utc","domain":[{"year":2021,"month":11,"date":26,"hours":2,"minutes":7,"utc":true},{"year":2022,"month":5,"date":30,"hours":13,"minutes":12,"utc":true}]}, "axis": null},
   "x2": {"datum": {"year":2022,"month":5,"date":30,"hours":13,"minutes":12,"utc":true}},
   "y": {"datum": 19.731, "type": "quantitative", "scale": {"domain":[0.3874,19.731],"nice":false,"zero":false}, "axis": null},
   "y2": {"datum": 19.056}}},
 {"data": {"values": [{"price":19.056},{"price":6.19},{"price":2.187},{"price":1.377}]},
  "mark": {"type": "rule", "color": "#e0e3eb", "strokeWidth": 1},
  "encoding": {
   "x": {"datum": {"year":2021,"month":11,"date":26,"hours":6,"minutes":50,"utc":true}, "type": "temporal", "scale": {"type":"utc","domain":[{"year":2021,"month":11,"date":26,"hours":2,"minutes":7,"utc":true},{"year":2022,"month":5,"date":30,"hours":13,"minutes":12,"utc":true}]}, "axis": null},
   "x2": {"datum": {"year":2022,"month":5,"date":29,"hours":13,"minutes":40,"utc":true}},
   "y": {"field": "price", "type": "quantitative", "scale": {"domain":[0.3874,19.731],"nice":false,"zero":false}, "axis": null}}},
 {"data": {"values": [{"date":"2021-11-26T06:50:00Z"},{"date":"2022-05-19T03:50:00Z"},{"date":"2022-05-29T13:40:00Z"}]},
  "mark": {"type": "rule", "color": "#e0e3eb", "strokeWidth": 1},
  "encoding": {
   "x": {"field": "date", "type": "temporal", "scale": {"type":"utc","domain":[{"year":2021,"month":11,"date":26,"hours":2,"minutes":7,"utc":true},{"year":2022,"month":5,"date":30,"hours":13,"minutes":12,"utc":true}]}, "axis": null},
   "y": {"datum": 19.056, "type": "quantitative", "scale": {"domain":[0.3874,19.731],"nice":false,"zero":false}, "axis": null},
   "y2": {"datum": 1.377}}},
 {"data": {"name": "ticks"},
  "transform": [{"filter": "datum.price != 9 && datum.price != 10 && datum.price != 16 && datum.price != 18"}],
  "mark": {"type": "text", "align": "left", "baseline": "middle", "fontSize": 7},
  "encoding": {
   "x": {"datum": {"year":2022,"month":5,"date":20,"hours":12,"minutes":45,"utc":true}, "type": "temporal", "scale": {"type":"utc","domain":[{"year":2021,"month":11,"date":26,"hours":2,"minutes":7,"utc":true},{"year":2022,"month":5,"date":30,"hours":13,"minutes":12,"utc":true}]}, "axis": null},
   "y": {"field": "price", "type": "quantitative", "scale": {"domain":[0.3874,19.731],"nice":false,"zero":false}, "axis": null},
   "text": {"field": "price", "type": "quantitative", "format": ".8f"}}},
 {"data": {"name": "tags"},
  "mark": {"type": "bar", "orient": "horizontal", "size": 11},
  "encoding": {
   "x": {"datum": {"year":2022,"month":5,"date":19,"hours":3,"minutes":50,"utc":true}, "type": "temporal", "scale": {"type":"utc","domain":[{"year":2021,"month":11,"date":26,"hours":2,"minutes":7,"utc":true},{"year":2022,"month":5,"date":30,"hours":13,"minutes":12,"utc":true}]}, "axis": null},
   "x2": {"datum": {"year":2022,"month":5,"date":28,"hours":14,"minutes":10,"utc":true}},
   "y": {"field": "at", "type": "quantitative", "scale": {"domain":[0.3874,19.731],"nice":false,"zero":false}, "axis": null},
   "color": {"condition": [{"test": "datum.kind === 'resistance'", "value": "#f23645"}, {"test": "datum.kind === 'ema21'", "value": "#ef5350"}], "value": "#2e5fe6"}}},
 {"data": {"name": "tags"},
  "mark": {"type": "text", "align": "left", "baseline": "middle", "fontSize": 7, "color": "#ffffff"},
  "encoding": {
   "x": {"datum": {"year":2022,"month":5,"date":19,"hours":22,"minutes":35,"utc":true}, "type": "temporal", "scale": {"type":"utc","domain":[{"year":2021,"month":11,"date":26,"hours":2,"minutes":7,"utc":true},{"year":2022,"month":5,"date":30,"hours":13,"minutes":12,"utc":true}]}, "axis": null},
   "y": {"field": "at", "type": "quantitative", "scale": {"domain":[0.3874,19.731],"nice":false,"zero":false}, "axis": null},
   "text": {"field": "label"}}},
 {"mark": {"type": "bar", "orient": "horizontal", "size": 19, "color": "#22a58c"},
  "encoding": {
   "x": {"datum": {"year":2022,"month":5,"date":19,"hours":3,"minutes":50,"utc":true}, "type": "temporal", "scale": {"type":"utc","domain":[{"year":2021,"month":11,"date":26,"hours":2,"minutes":7,"utc":true},{"year":2022,"month":5,"date":30,"hours":13,"minutes":12,"utc":true}]}, "axis": null},
   "x2": {"datum": {"year":2022,"month":5,"date":28,"hours":14,"minutes":10,"utc":true}},
   "y": {"datum": 9.2, "type": "quantitative", "scale": {"domain":[0.3874,19.731],"nice":false,"zero":false}, "axis": null}}},
 {"data": {"values": [{"label":"9.41000000","at":9.39},{"label":"13:30:17","at":8.99}]},
  "mark": {"type": "text", "align": "left", "baseline": "middle", "fontSize": 7, "color": "#ffffff"},
  "encoding": {
   "x": {"datum": {"year":2022,"month":5,"date":19,"hours":22,"minutes":35,"utc":true}, "type": "temporal", "scale": {"type":"utc","domain":[{"year":2021,"month":11,"date":26,"hours":2,"minutes":7,"utc":true},{"year":2022,"month":5,"date":30,"hours":13,"minutes":12,"utc":true}]}, "axis": null},
   "y": {"field": "at", "type": "quantitative", "scale": {"domain":[0.3874,19.731],"nice":false,"zero":false}, "axis": null},
   "text": {"field": "label"}}},
 {"mark": {"type": "text", "text": "USD", "align": "center", "baseline": "middle", "fontSize": 7},
  "encoding": {
   "x": {"datum": {"year":2022,"month":5,"date":24,"hours":6,"minutes":15,"utc":true}, "type": "temporal", "scale": {"type":"utc","domain":[{"year":2021,"month":11,"date":26,"hours":2,"minutes":7,"utc":true},{"year":2022,"month":5,"date":30,"hours":13,"minutes":12,"utc":true}]}, "axis": null},
   "y": {"datum": 18.561, "type": "quantitative", "scale": {"domain":[0.3874,19.731],"nice":false,"zero":false}, "axis": null}}},
 {"mark": {"type": "text", "text": "Uniswap / U.S. Dollar, 1D, COINBASE", "align": "left", "baseline": "middle", "fontSize": 7.5},
  "encoding": {
   "x": {"datum": {"year":2021,"month":11,"date":27,"hours":1,"minutes":42,"utc":true}, "type": "temporal", "scale": {"type":"utc","domain":[{"year":2021,"month":11,"date":26,"hours":2,"minutes":7,"utc":true},{"year":2022,"month":5,"date":30,"hours":13,"minutes":12,"utc":true}]}, "axis": null},
   "y": {"datum": 18.561, "type": "quantitative", "scale": {"domain":[0.3874,19.731],"nice":false,"zero":false}, "axis": null}}},
 {"mark": {"type": "text", "text": "O9.32000000  H9.58000000  L9.28000000  C9.41000000  +0.09000000 (+0.97%)", "align": "left", "baseline": "middle", "fontSize": 7.5, "color": "#26a69a"},
  "encoding": {
   "x": {"datum": {"year":2021,"month":12,"date":22,"hours":5,"minutes":14,"utc":true}, "type": "temporal", "scale": {"type":"utc","domain":[{"year":2021,"month":11,"date":26,"hours":2,"minutes":7,"utc":true},{"year":2022,"month":5,"date":30,"hours":13,"minutes":12,"utc":true}]}, "axis": null},
   "y": {"datum": 18.561, "type": "quantitative", "scale": {"domain":[0.3874,19.731],"nice":false,"zero":false}, "axis": null}}},
 {"mark": {"type": "text", "text": "MA (9, close, 0)", "align": "left", "baseline": "middle", "fontSize": 7},
  "encoding": {
   "x": {"datum": {"year":2021,"month":11,"date":27,"hours":1,"minutes":42,"utc":true}, "type": "temporal", "scale": {"type":"utc","domain":[{"year":2021,"month":11,"date":26,"hours":2,"minutes":7,"utc":true},{"year":2022,"month":5,"date":30,"hours":13,"minutes":12,"utc":true}]}, "axis": null},
   "y": {"datum": 18.066, "type": "quantitative", "scale": {"domain":[0.3874,19.731],"nice":false,"zero":false}, "axis": null}}},
 {"mark": {"type": "text", "text": "9.49888889", "align": "left", "baseline": "middle", "fontSize": 7, "color": "#2962ff"},
  "encoding": {
   "x": {"datum": {"year":2021,"month":12,"date":8,"hours":20,"minutes":37,"utc":true}, "type": "temporal", "scale": {"type":"utc","domain":[{"year":2021,"month":11,"date":26,"hours":2,"minutes":7,"utc":true},{"year":2022,"month":5,"date":30,"hours":13,"minutes":12,"utc":true}]}, "axis": null},
   "y": {"datum": 18.066, "type": "quantitative", "scale": {"domain":[0.3874,19.731],"nice":false,"zero":false}, "axis": null}}},
 {"mark": {"type": "text", "text": "MA (21, close, 0)", "align": "left", "baseline": "middle", "fontSize": 7},
  "encoding": {
   "x": {"datum": {"year":2021,"month":11,"date":27,"hours":1,"minutes":42,"utc":true}, "type": "temporal", "scale": {"type":"utc","domain":[{"year":2021,"month":11,"date":26,"hours":2,"minutes":7,"utc":true},{"year":2022,"month":5,"date":30,"hours":13,"minutes":12,"utc":true}]}, "axis": null},
   "y": {"datum": 17.594, "type": "quantitative", "scale": {"domain":[0.3874,19.731],"nice":false,"zero":false}, "axis": null}}},
 {"mark": {"type": "text", "text": "10.07809524", "align": "left", "baseline": "middle", "fontSize": 7, "color": "#f23645"},
  "encoding": {
   "x": {"datum": {"year":2021,"month":12,"date":9,"hours":15,"minutes":27,"utc":true}, "type": "temporal", "scale": {"type":"utc","domain":[{"year":2021,"month":11,"date":26,"hours":2,"minutes":7,"utc":true},{"year":2022,"month":5,"date":30,"hours":13,"minutes":12,"utc":true}]}, "axis": null},
   "y": {"datum": 17.594, "type": "quantitative", "scale": {"domain":[0.3874,19.731],"nice":false,"zero":false}, "axis": null}}},
 {"mark": {"type": "text", "text": "CROWNGIMS published on TradingView.com, Apr 21, 2022 10:29 UTC", "align": "left", "baseline": "middle", "fontSize": 7.3},
  "encoding": {
   "x": {"datum": {"year":2021,"month":11,"date":26,"hours":6,"minutes":50,"utc":true}, "type": "temporal", "scale": {"type":"utc","domain":[{"year":2021,"month":11,"date":26,"hours":2,"minutes":7,"utc":true},{"year":2022,"month":5,"date":30,"hours":13,"minutes":12,"utc":true}]}, "axis": null},
   "y": {"datum": 19.371, "type": "quantitative", "scale": {"domain":[0.3874,19.731],"nice":false,"zero":false}, "axis": null}}},
 {"data": {"name": "dates"},
  "mark": {"type": "text", "align": "center", "baseline": "middle", "fontSize": 7.5},
  "encoding": {
   "x": {"field": "date", "type": "temporal", "scale": {"type":"utc","domain":[{"year":2021,"month":11,"date":26,"hours":2,"minutes":7,"utc":true},{"year":2022,"month":5,"date":30,"hours":13,"minutes":12,"utc":true}]}, "axis": null},
   "y": {"datum": 1.827, "type": "quantitative", "scale": {"domain":[0.3874,19.731],"nice":false,"zero":false}, "axis": null},
   "text": {"field": "label"}}},
 {"mark": {"type": "text", "text": "TV", "align": "left", "baseline": "middle", "fontSize": 7.5, "fontWeight": "bold"},
  "encoding": {
   "x": {"datum": {"year":2021,"month":11,"date":26,"hours":6,"minutes":50,"utc":true}, "type": "temporal", "scale": {"type":"utc","domain":[{"year":2021,"month":11,"date":26,"hours":2,"minutes":7,"utc":true},{"year":2022,"month":5,"date":30,"hours":13,"minutes":12,"utc":true}]}, "axis": null},
   "y": {"datum": 0.882, "type": "quantitative", "scale": {"domain":[0.3874,19.731],"nice":false,"zero":false}, "axis": null}}},
 {"mark": {"type": "text", "text": "TradingView", "align": "left", "baseline": "middle", "fontSize": 8.5},
  "encoding": {
   "x": {"datum": {"year":2021,"month":11,"date":28,"hours":22,"minutes":0,"utc":true}, "type": "temporal", "scale": {"type":"utc","domain":[{"year":2021,"month":11,"date":26,"hours":2,"minutes":7,"utc":true},{"year":2022,"month":5,"date":30,"hours":13,"minutes":12,"utc":true}]}, "axis": null},
   "y": {"datum": 0.882, "type": "quantitative", "scale": {"domain":[0.3874,19.731],"nice":false,"zero":false}, "axis": null}}}
]}
]
}
